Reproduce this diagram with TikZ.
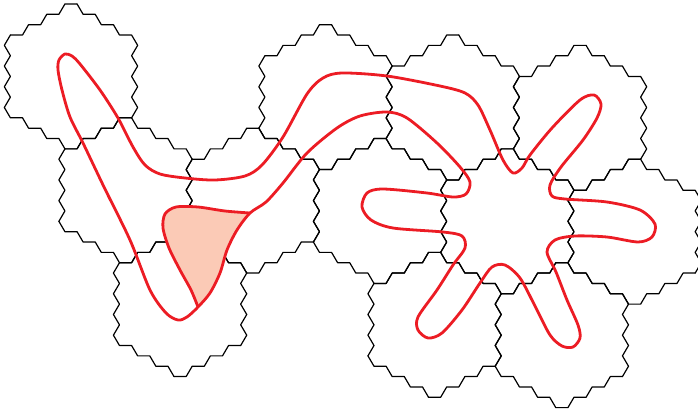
\documentclass[tikz,border=0pt]{standalone}
\usepackage{tikz}
\definecolor{doDuong}{RGB}{236,28,36}
\definecolor{camNhat}{RGB}{251,202,182}

\begin{document}
\begin{tikzpicture}[x=0.5pt, y=-0.5pt, line join=round,
    canh/.style={black, line width=0.6pt, line cap=round},
    duongDo/.style={doDuong, line width=1.4pt}]
    % 1. Giới hạn vùng hiển thị
    \clip (0,0) rectangle (698,414);

    % 2. Các ô lục giác lớn (mỗi ô gồm 37 lục giác nhỏ)
    \begin{scope}[x=6pt, y=6pt, xscale=1.01, yscale=0.996]
        \foreach \u/\w in {0/0, 0/1, 0/2, 1/1, 2/0, 2/1, 2/2, 3/0, 3/1, 3/2, 4/0, 4/1}
            \foreach \k in {0,...,5}
                \draw[canh, shift={(5.858+10.5*\u+4.5*\w, -6.393-0.866*\u-9.526*\w)}, rotate=60*\k]
                    (0.5,6.062) -- (1,5.196) -- (2,5.196) -- (2.5,4.330) -- (3.5,4.330)
                    -- (4,3.464) -- (5,3.464) -- (5.5,2.598);
    \end{scope}

    % 3. Miền tô màu
    \fill[camNhat] plot[smooth] coordinates {(250,213) (237,230) (227,250) (220,273) (210,293) (198,307)}
        -- plot[smooth] coordinates {(198,307) (191,290) (180,270) (169,248) (163,228) (165,214)
        (176,207) (198,207) (225,211) (250,213)} -- cycle;
    \draw[duongDo] plot[smooth] coordinates {(198,307) (191,290) (180,270) (169,248) (163,228)
        (165,214) (176,207) (198,207) (225,211) (250,213)};

    % 4. Đường cong kín (màu đỏ)
    \draw[duongDo] plot[smooth cycle] coordinates {
        (65,54) (72,56) (80,64) (100,90) (118,118) (133,147) (145,165) (160,174) (185,178)
        (215,180) (245,176) (262,165) (283,137) (307,94) (323,78) (342,73) (387,76)
        (440,86) (465,93) (478,105) (490,130) (503,160) (513,173) (522,168) (530,155)
        (552,128) (580,100) (594,95) (601,104) (597,118) (583,140) (561,167) (550,185)
        (552,196) (565,199) (607,202) (640,210) (655,224) (652,237) (638,242) (607,237)
        (575,236) (555,240) (547,252) (556,272) (567,300) (578,325) (580,338) (573,347)
        (562,346) (550,335) (535,306) (520,278) (505,265) (492,267) (480,283) (462,310)
        (442,333) (428,338) (418,330) (418,317) (437,290) (453,265) (465,248) (462,236)
        (443,232) (393,228) (371,220) (362,207) (367,193) (383,189) (427,193) (453,197)
        (466,194) (470,182) (460,167) (437,143) (407,118) (387,112) (360,116) (337,128)
        (307,153) (283,183) (266,202) (250,213) (237,230) (227,250) (220,273) (210,293)
        (198,307) (187,317) (178,320) (166,313) (150,290) (130,240) (104,187) (83,143)
        (70,117) (62,90) (58,70) (59,60)};
\end{tikzpicture}
\end{document}
